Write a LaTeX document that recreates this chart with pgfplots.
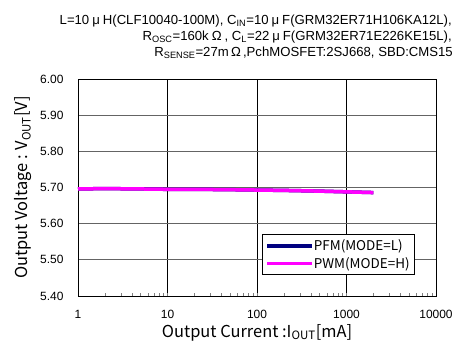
\documentclass[border=0pt]{standalone}
\usepackage{pgfplots}
\pgfplotsset{compat=1.18}
\usepackage{fontspec}
\setmainfont{Liberation Sans}
\newfontfamily\jpfont{Noto Sans CJK JP}
\definecolor{pwmpink}{RGB}{255,0,255}
\definecolor{pfmnavy}{RGB}{0,0,128}
\definecolor{gridgray}{RGB}{100,100,100}
\newcommand{\gap}{\hspace{3bp}}

\begin{document}
\begin{tikzpicture}[x=1bp,y=1bp]
  \useasboundingbox (-78,-51) rectangle (377,296);
  \begin{axis}[
    at={(0,0)}, anchor=south west,
    scale only axis,
    width=358bp, height=217bp,
    xmode=log,
    xmin=1, xmax=10000,
    ymin=5.40, ymax=6.00,
    ytick={5.40,5.50,5.60,5.70,5.80,5.90,6.00},
    yticklabel style={xshift=-11bp, /pgf/number format/.cd, fixed, fixed zerofill, precision=2},
    /pgf/number format/assume math mode=true,
    xtick={1,10,100,1000,10000},
    xticklabels={1,10,100,1000,10000},
    tick label style={font=\fontsize{12}{14}\selectfont},
    xticklabel style={yshift=-11bp},
    major tick length=0pt,
    minor tick length=3bp,
    tick align=inside,
    xtick pos=bottom, ytick pos=left,
    minor x tick num=8,
    xmajorgrids, ymajorgrids,
    x grid style={black, line width=0.8pt},
    y grid style={gridgray, line width=0.8pt},
    axis line style={black, line width=1pt},
    xlabel={\jpfont Output Current :I\textsubscript{OUT}[mA]},
    ylabel={\jpfont Output Voltage : V\textsubscript{OUT}[V]},
    label style={font=\fontsize{16.5}{19}\selectfont},
    xlabel style={at={(axis description cs:0.5,0)}, anchor=base, yshift=-41bp},
    ylabel style={at={(axis description cs:-0.1397,0.5)}, anchor=base},
    legend cell align={left},
    legend style={
      at={(0.941,0.097)}, anchor=south east,
      draw=black, line width=0.6pt, fill=white,
      font=\jpfont\fontsize{13.5}{15}\selectfont,
      row sep=1bp, inner sep=3bp,
      /tikz/every odd column/.style={column sep=-2bp},
    },
    legend image code/.code={\draw[#1, line width=3.5bp] (0bp,0bp) -- (45bp,0bp);},
  ]
    \addplot[pfmnavy, line width=3.5bp] coordinates {
      (1,5.696) (2,5.697) (5,5.696) (10,5.695) (20,5.695) (50,5.694)
      (100,5.693) (200,5.692) (500,5.690) (1000,5.688) (2000,5.686)
    };
    \addlegendentry{PFM(MODE=L)}
    \addplot[pwmpink, line width=3.5bp] coordinates {
      (1,5.696) (2,5.697) (5,5.696) (10,5.695) (20,5.695) (50,5.694)
      (100,5.693) (200,5.692) (500,5.690) (1000,5.688) (2000,5.686)
    };
    \addlegendentry{PWM(MODE=H)}
  \end{axis}
  \begin{scope}[font=\fontsize{13.2}{16}\selectfont]
    \node[anchor=base east, inner sep=0pt] at (374,272) {L=10\gap μ\gap H(CLF10040-100M), C\textsubscript{IN}=10\gap μ\gap F(GRM32ER71H106KA12L),};
    \node[anchor=base east, inner sep=0pt] at (374,256) {R\textsubscript{OSC}=160k\gap Ω\gap, C\textsubscript{L}=22\gap μ\gap F(GRM32ER71E226KE15L),};
    \node[anchor=base east, inner sep=0pt] at (375,240) {R\textsubscript{SENSE}=27m\,Ω\,,PchMOSFET:2SJ668, SBD:CMS15};
  \end{scope}
\end{tikzpicture}
\end{document}
